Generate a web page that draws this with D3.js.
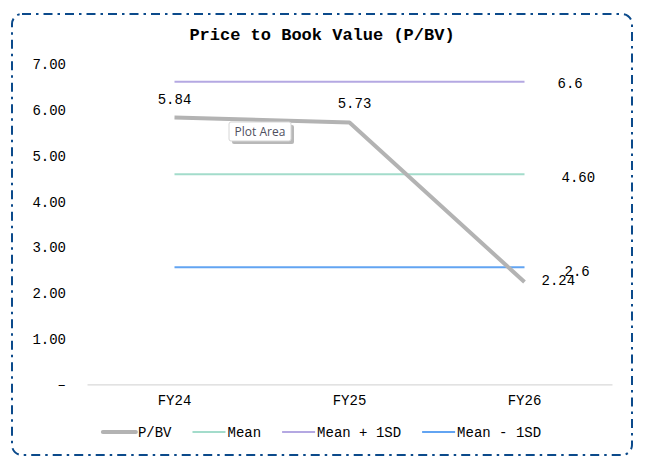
<!DOCTYPE html>
<html>
<head>
<meta charset="utf-8">
<script src="https://cdn.jsdelivr.net/npm/d3@7"></script>
<style>
  body { margin: 0; background: #fff; }
  text { font-family: 'Courier New', 'Nimbus Mono PS', 'FreeMono', 'Liberation Mono', monospace; fill: #000; }
</style>
</head>
<body>
<div id="chart"></div>
<script>
const categories = ['FY24', 'FY25', 'FY26']
const pbv = [5.84, 5.73, 2.24]
const meanValue = 4.60
const meanPlus = 6.62
const meanMinus = 2.56
const yTicks = [0, 1, 2, 3, 4, 5, 6, 7]
const legendNames = ['P/BV', 'Mean', 'Mean + 1SD', 'Mean - 1SD']

const W = 645
const H = 468
const plot = { left: 87, right: 612, top: 64.5, bottom: 384.3 }
const colors = {
  pbv: '#b3b3b3',
  mean: '#a3dccb',
  plus: '#b4a8e2',
  minus: '#62a4f2'
}

const svg = d3
  .select('#chart')
  .append('svg')
  .attr('width', W)
  .attr('height', H)

// dash-dot border
svg
  .append('rect')
  .attr('x', 12)
  .attr('y', 14)
  .attr('width', 620)
  .attr('height', 441)
  .attr('rx', 10)
  .attr('fill', '#fff')
  .attr('stroke', '#0b4a8b')
  .attr('stroke-width', 2)
  .attr('stroke-dasharray', '9,5,2.5,5')

svg
  .append('text')
  .attr('x', 322)
  .attr('y', 40)
  .attr('text-anchor', 'middle')
  .style('font-size', '17px')
  .style('font-weight', 'bold')
  .text('Price to Book Value (P/BV)')

const x = d3
  .scaleBand()
  .domain(categories)
  .range([plot.left, plot.right])

const y = d3
  .scaleLinear()
  .domain([0, 7])
  .range([plot.bottom, plot.top])

const cx = d => x(d) + x.bandwidth() / 2

// y axis labels, no line
const yAxis = d3
  .axisLeft(y)
  .tickValues(yTicks)
  .tickSize(0)
  .tickPadding(21)
  .tickFormat(d => (d === 0 ? '\u2013' : d3.format('.2f')(d)))

svg
  .append('g')
  .attr('class', 'y-axis')
  .attr('transform', 'translate(' + plot.left + ',0)')
  .call(yAxis)
  .call(g => g.select('.domain').remove())
  .selectAll('text')
  .style('font-size', '14px')
  .attr('font-family', null)

// category axis
const xAxis = d3.axisBottom(x).tickSize(0).tickPadding(11)

svg
  .append('g')
  .attr('class', 'x-axis')
  .attr('transform', 'translate(0,' + plot.bottom + ')')
  .call(xAxis)
  .call(g => g.selectAll('.tick line').remove())
  .call(g => g.select('.domain').attr('stroke', '#d9d9d9').attr('stroke-width', 1.2))
  .selectAll('text')
  .style('font-size', '14px')
  .attr('font-family', null)

// reference lines
const refLines = [
  { value: meanPlus, color: colors.plus, label: d3.format('.1f')(meanPlus), dx: 33, dy: 6 },
  { value: meanValue, color: colors.mean, label: d3.format('.2f')(meanValue), dx: 37, dy: 8 },
  { value: meanMinus, color: colors.minus, label: d3.format('.1f')(meanMinus), dx: 40, dy: 9 }
]

const first = categories[0]
const last = categories[categories.length - 1]

refLines.forEach(r => {
  svg
    .append('line')
    .attr('x1', cx(first))
    .attr('x2', cx(last))
    .attr('y1', y(r.value))
    .attr('y2', y(r.value))
    .attr('stroke', r.color)
    .attr('stroke-width', 2)
})

// P/BV line
const line = d3
  .line()
  .x((d, i) => cx(categories[i]))
  .y(d => y(d))

svg
  .append('path')
  .datum(pbv)
  .attr('d', line)
  .attr('fill', 'none')
  .attr('stroke', colors.pbv)
  .attr('stroke-width', 4)
  .attr('stroke-linejoin', 'round')

// data labels
const pbvOffsets = [
  { dx: 0, dy: -13, anchor: 'middle' },
  { dx: 5, dy: -15, anchor: 'middle' },
  { dx: 17, dy: 3, anchor: 'start' }
]

svg
  .selectAll('.pbv-label')
  .data(pbv)
  .enter()
  .append('text')
  .attr('class', 'pbv-label')
  .attr('x', (d, i) => cx(categories[i]) + pbvOffsets[i].dx)
  .attr('y', (d, i) => y(d) + pbvOffsets[i].dy)
  .attr('text-anchor', (d, i) => pbvOffsets[i].anchor)
  .style('font-size', '14px')
  .text(d => d3.format('.2f')(d))

svg
  .selectAll('.ref-label')
  .data(refLines)
  .enter()
  .append('text')
  .attr('class', 'ref-label')
  .attr('x', d => cx(last) + d.dx)
  .attr('y', d => y(d.value) + d.dy)
  .style('font-size', '14px')
  .text(d => d.label)

// "Plot Area" hover tip
const tip = svg.append('g').attr('transform', 'translate(229,122)')
tip
  .append('rect')
  .attr('x', 3)
  .attr('y', 3)
  .attr('width', 62)
  .attr('height', 19)
  .attr('rx', 2)
  .attr('fill', '#9a9a9a')
  .attr('opacity', 0.7)
tip
  .append('rect')
  .attr('width', 62)
  .attr('height', 19)
  .attr('rx', 2)
  .attr('fill', '#fff')
  .attr('stroke', '#d6d6d6')
tip
  .append('text')
  .attr('x', 31)
  .attr('y', 14)
  .attr('text-anchor', 'middle')
  .style('font-family', "'Open Sans', 'Noto Sans', sans-serif")
  .style('font-size', '12px')
  .style('fill', '#505060')
  .text('Plot Area')

// legend
const legendSymbols = [
  { color: colors.pbv, width: 4 },
  { color: colors.mean, width: 2 },
  { color: colors.plus, width: 2 },
  { color: colors.minus, width: 2 }
]

const legend = svg.append('g').attr('class', 'legend')
let lx = 0
legendNames.forEach((name, i) => {
  const item = legend.append('g').attr('transform', 'translate(' + lx + ',0)')
  item
    .append('line')
    .attr('x1', 0)
    .attr('x2', 33)
    .attr('y1', 0)
    .attr('y2', 0)
    .attr('stroke', legendSymbols[i].color)
    .attr('stroke-width', legendSymbols[i].width)
    .attr('stroke-linecap', i === 0 ? 'round' : 'butt')
  const t = item
    .append('text')
    .attr('x', 35)
    .attr('y', 5)
    .style('font-size', '14px')
    .text(name)
  lx += 35 + t.node().getComputedTextLength() + 21
})
const legendWidth = lx - 21
legend.attr('transform', 'translate(' + (322 - legendWidth / 2) + ',432)')
</script>
</body>
</html>
